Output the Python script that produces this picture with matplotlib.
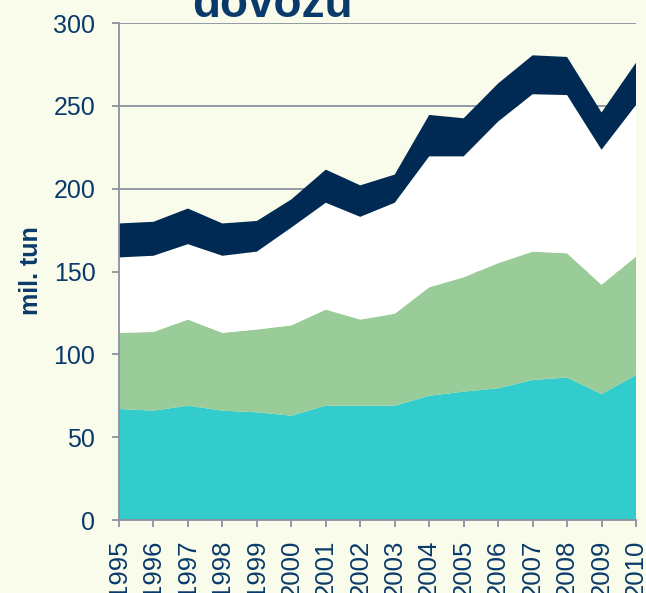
import matplotlib
matplotlib.use('Agg')
import matplotlib.pyplot as plt

# Data (mil. tun, stacked layers)
years = list(range(1995, 2011))
layer_teal = [67, 66, 69, 66, 65, 63, 69, 69, 69, 75, 77.5, 79.5, 84.5, 86, 76, 87.5]
layer_green = [46, 47.5, 52, 47, 50, 54.5, 58, 52, 55.5, 65.5, 69, 75.5, 77.5, 75, 66, 71.5]
layer_white = [45.5, 46, 45.5, 46.5, 47, 59, 64.5, 62, 67, 79, 73, 85.5, 95, 95.5, 81.5, 91.5]
layer_navy = [20.5, 20.5, 21.5, 19.5, 18.5, 17, 20, 19, 17, 25, 23, 23, 23.5, 23, 22.5, 25.5]

yticks = [0, 50, 100, 150, 200, 250, 300]

bg = '#F9FCEA'
txt = '#0A3A6B'
grid = '#8C929E'

plt.rcParams['font.family'] = ['Liberation Sans', 'DejaVu Sans']

fig = plt.figure(figsize=(6.46, 5.93), dpi=100, facecolor=bg)
ax = fig.add_axes([119 / 646, 1 - 520 / 593, (636 - 119) / 646, (520 - 23) / 593])
ax.set_facecolor(bg)

ax.stackplot(years, layer_teal, layer_green, layer_white, layer_navy,
             colors=['#33CCCC', '#99CC99', '#FFFFFF', '#002A54'],
             linewidth=0, zorder=2)

ax.set_xlim(1995, 2010)
ax.set_ylim(0, 300)
ax.set_yticks(yticks)
ax.set_xticks(years)
ax.set_xticklabels([str(y) for y in years], rotation=90)

ax.yaxis.grid(True, color=grid, linewidth=1.3, zorder=1)
ax.set_axisbelow(True)

for s in ['top', 'right']:
    ax.spines[s].set_visible(False)
for s in ['left', 'bottom']:
    ax.spines[s].set_color(grid)
    ax.spines[s].set_linewidth(1.3)
    ax.spines[s].set_zorder(3)

ax.tick_params(axis='y', direction='out', length=5, width=1.3, color=grid,
               labelsize=18, labelcolor=txt, pad=12)
ax.tick_params(axis='x', direction='out', length=5, width=1.3, color=grid,
               labelsize=18.5, labelcolor=txt, pad=9)

fig.text(31 / 646, 1 - 271 / 593, 'mil. tun', rotation=90, ha='center', va='center',
         fontsize=18, fontweight='bold', color=txt)
fig.text(272 / 646, 1 - 17 / 593, 'dovozu', ha='center', va='baseline',
         fontsize=33, fontweight='bold', color=txt)

fig.savefig('out.png', dpi=100, facecolor=bg)
